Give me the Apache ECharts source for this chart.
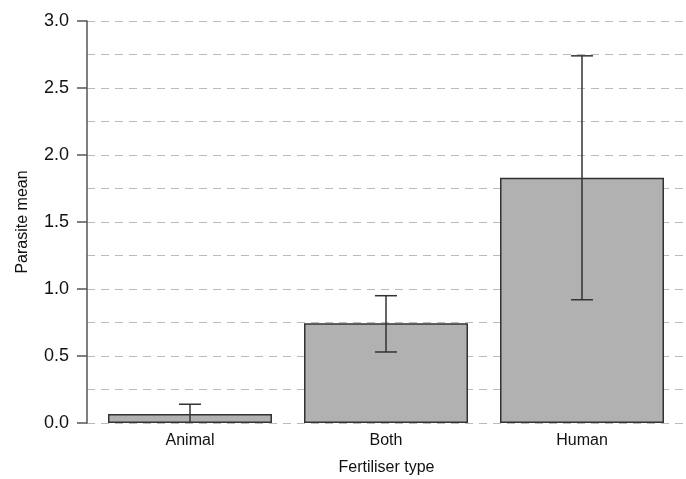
<!DOCTYPE html>
<html>
<head>
<meta charset="utf-8">
<script src="https://cdn.jsdelivr.net/npm/echarts@6/dist/echarts.min.js"></script>
<style>
  html, body { margin: 0; padding: 0; background: #fff; }
  #chart { width: 686px; height: 479px; }
</style>
</head>
<body>
<div id="chart"></div>
<script>
// data
var categories = ['Animal', 'Both', 'Human'];
var means = [0.067, 0.745, 1.83];
var errLow = [0, 0.53, 0.92];
var errHigh = [0.14, 0.95, 2.74];

var chart = echarts.init(document.getElementById('chart'));

var barData = categories.map(function (c, i) { return [i, means[i]]; });
var errData = categories.map(function (c, i) {
  return [i, errLow[i], errHigh[i]];
});

var option = {
  backgroundColor: '#fff',
  animation: false,
  grid: { left: 87, right: 0, top: 21, bottom: 56, outerBoundsMode: 'none' },
  xAxis: {
    type: 'value',
    // numeric x so the dashed grid runs to the right edge like the original
    min: -0.5255,
    max: 2.5306,
    name: 'Fertiliser type',
    nameLocation: 'middle',
    nameGap: 37,
    nameTextStyle: { fontSize: 16, color: '#111', fontFamily: 'Liberation Sans' },
    axisLine: { show: false, onZero: false },
    axisTick: { show: false },
    axisLabel: {
      customValues: [0, 1, 2],
      margin: 10, fontSize: 16, color: '#111', fontFamily: 'Liberation Sans',
      formatter: function (v) { return categories[Math.round(v)] || ''; }
    },
    splitLine: { show: false }
  },
  yAxis: {
    type: 'value',
    min: 0,
    max: 3,
    interval: 0.5,
    name: 'Parasite mean',
    nameLocation: 'middle',
    nameGap: 56,
    nameTextStyle: { fontSize: 16, color: '#111', fontFamily: 'Liberation Sans' },
    axisLine: { show: true, onZero: false, lineStyle: { color: '#555', width: 1.5 } },
    axisTick: { show: true, length: 10, lineStyle: { color: '#555', width: 1.5 } },
    axisLabel: {
      margin: 18, fontSize: 18, color: '#111', fontFamily: 'Liberation Sans',
      formatter: function (v) { return v.toFixed(1); }
    },
    splitLine: { show: true, lineStyle: { color: '#bbb', type: [8, 6], width: 1.2 } },
    minorTick: { show: false, splitNumber: 2 },
    minorSplitLine: { show: true, lineStyle: { color: '#bbb', type: [8, 6], width: 1.2 } }
  },
  series: [
    {
      type: 'bar',
      data: barData,
      barWidth: 164,
      itemStyle: { color: '#b1b1b1', borderColor: '#333', borderWidth: 1.5 },
      z: 3
    },
    {
      type: 'custom',
      data: errData,
      z: 5,
      renderItem: function (params, api) {
        var x = api.value(0);
        var lo = api.coord([x, api.value(1)]);
        var hi = api.coord([x, api.value(2)]);
        var hw = 11;
        var st = { stroke: '#333', lineWidth: 1.5 };
        var kids = [
          { type: 'line', shape: { x1: hi[0], y1: hi[1], x2: lo[0], y2: lo[1] }, style: st },
          { type: 'line', shape: { x1: hi[0] - hw, y1: hi[1], x2: hi[0] + hw, y2: hi[1] }, style: st }
        ];
        if (api.value(1) > 0) {
          kids.push({ type: 'line', shape: { x1: lo[0] - hw, y1: lo[1], x2: lo[0] + hw, y2: lo[1] }, style: st });
        }
        return { type: 'group', children: kids };
      }
    }
  ]
};

chart.setOption(option);
</script>
</body>
</html>
